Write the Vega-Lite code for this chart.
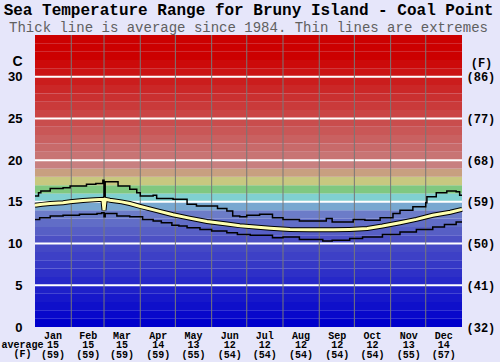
{
  "$schema": "https://vega.github.io/schema/vega-lite/v6.json",
  "width": 427,
  "height": 292,
  "autosize": "none",
  "padding": {"left": 35, "top": 35, "right": 38, "bottom": 35},
  "background": "#e6e6fa",
  "config": {"view": {"stroke": null}, "axisX": {"labelOverlap": false}},
  "title": {
    "text": "Sea Temperature Range for Bruny Island - Coal Point",
    "subtitle": "Thick line is average since 1984. Thin lines are extremes",
    "font": "Liberation Mono", "fontSize": 16, "fontWeight": "bold", "color": "#000000",
    "subtitleFont": "Liberation Mono", "subtitleFontSize": 14, "subtitleColor": "#606060",
    "anchor": "middle", "offset": 0, "subtitlePadding": 3
  },
  "datasets": {
    "bands": [
      {"lo":0,"hi":1},{"lo":1,"hi":2},{"lo":2,"hi":3},{"lo":3,"hi":4},{"lo":4,"hi":5},{"lo":5,"hi":6},{"lo":6,"hi":7},{"lo":7,"hi":8},{"lo":8,"hi":9},{"lo":9,"hi":10},
      {"lo":10,"hi":11},{"lo":11,"hi":12},{"lo":12,"hi":13},{"lo":13,"hi":14},{"lo":14,"hi":15},{"lo":15,"hi":16},{"lo":16,"hi":17},{"lo":17,"hi":18},{"lo":18,"hi":19},{"lo":19,"hi":20},
      {"lo":20,"hi":21},{"lo":21,"hi":22},{"lo":22,"hi":23},{"lo":23,"hi":24},{"lo":24,"hi":25},{"lo":25,"hi":26},{"lo":26,"hi":27},{"lo":27,"hi":28},{"lo":28,"hi":29},{"lo":29,"hi":30},
      {"lo":30,"hi":31},{"lo":31,"hi":32},{"lo":32,"hi":33},{"lo":33,"hi":34},{"lo":34,"hi":35}
    ],
    "grid": [{"t":5},{"t":10},{"t":15},{"t":20},{"t":25},{"t":30}],
    "months": [{"d":31},{"d":59},{"d":90},{"d":120},{"d":151},{"d":181},{"d":212},{"d":243},{"d":273},{"d":304},{"d":334}],
    "max": [
      {"d":0,"t":15.7},{"d":3,"t":16.1},{"d":5,"t":16.3},{"d":13,"t":16.6},{"d":24,"t":16.7},{"d":30,"t":16.9},{"d":44,"t":17.1},{"d":52,"t":17.2},{"d":58,"t":17.6},{"d":59,"t":15.4},{"d":60,"t":17.4},{"d":71,"t":16.9},{"d":81,"t":16.5},{"d":87,"t":16.1},{"d":90,"t":15.7},{"d":101,"t":15.8},{"d":104,"t":15.4},{"d":118,"t":15.3},{"d":130,"t":14.7},{"d":138,"t":14.5},{"d":156,"t":14.2},{"d":164,"t":13.9},{"d":169,"t":13.3},{"d":175,"t":13.2},{"d":181,"t":13.4},{"d":192,"t":13.5},{"d":203,"t":13.1},{"d":212,"t":12.9},{"d":226,"t":12.7},{"d":249,"t":13.0},{"d":254,"t":12.6},{"d":272,"t":12.9},{"d":282,"t":12.8},{"d":295,"t":13.1},{"d":306,"t":13.6},{"d":312,"t":14.0},{"d":323,"t":14.4},{"d":334,"t":14.9},{"d":335,"t":15.6},{"d":343,"t":16.1},{"d":352,"t":16.3},{"d":360,"t":16.2},{"d":363,"t":15.8},{"d":365,"t":15.8}
    ],
    "min": [
      {"d":0,"t":12.9},{"d":4,"t":13.1},{"d":13,"t":13.3},{"d":24,"t":13.4},{"d":38,"t":13.5},{"d":53,"t":13.6},{"d":57,"t":13.7},{"d":59,"t":13.2},{"d":60,"t":13.6},{"d":70,"t":13.3},{"d":81,"t":13.2},{"d":92,"t":12.9},{"d":101,"t":12.7},{"d":108,"t":12.5},{"d":117,"t":12.2},{"d":123,"t":12.1},{"d":130,"t":11.9},{"d":141,"t":11.7},{"d":151,"t":11.5},{"d":164,"t":11.3},{"d":173,"t":11.1},{"d":184,"t":11.0},{"d":203,"t":10.7},{"d":212,"t":10.8},{"d":226,"t":10.5},{"d":246,"t":10.3},{"d":254,"t":10.4},{"d":269,"t":10.6},{"d":280,"t":10.8},{"d":297,"t":11.1},{"d":312,"t":11.4},{"d":326,"t":11.7},{"d":340,"t":12.0},{"d":350,"t":12.3},{"d":360,"t":12.6},{"d":365,"t":12.6}
    ],
    "avg": [
      {"d":0,"t":14.6},{"d":6,"t":14.7},{"d":13,"t":14.8},{"d":24,"t":14.9},{"d":30,"t":15.0},{"d":41,"t":15.15},{"d":51,"t":15.25},{"d":58,"t":15.3},{"d":59,"t":14.0},{"d":60,"t":15.3},{"d":64,"t":15.2},{"d":74,"t":15.0},{"d":81,"t":14.8},{"d":90,"t":14.45},{"d":104,"t":13.95},{"d":118,"t":13.45},{"d":132,"t":13.05},{"d":147,"t":12.65},{"d":164,"t":12.35},{"d":175,"t":12.15},{"d":188,"t":12.0},{"d":201,"t":11.85},{"d":218,"t":11.7},{"d":235,"t":11.65},{"d":255,"t":11.65},{"d":269,"t":11.7},{"d":284,"t":11.8},{"d":297,"t":12.1},{"d":312,"t":12.5},{"d":326,"t":12.9},{"d":340,"t":13.4},{"d":355,"t":13.75},{"d":365,"t":14.1}
    ]
  },
  "resolve": {"axis": {"y": "independent"}},
  "layer": [
    {
      "data": {"name": "bands"},
      "mark": {"type": "rect"},
      "encoding": {
        "y": {"field": "lo", "type": "quantitative",
          "scale": {"domain": [0, 35], "nice": false, "zero": true},
          "axis": {"values": [0,5,10,15,20,25,30], "tickCount": 20, "labelFont": "Liberation Sans", "labelFontWeight": "bold", "labelFontSize": 13, "labelColor": "#000000", "labelPadding": 13, "ticks": false, "domain": false, "grid": false,
            "title": "C", "titleAngle": 0, "titleX": -18, "titleY": 26, "titleAlign": "center", "titleBaseline": "middle", "titleFont": "Liberation Sans", "titleFontSize": 14, "titleFontWeight": "bold", "titleColor": "#000000"}},
        "y2": {"field": "hi"},
        "color": {"field": "lo", "type": "quantitative", "legend": null,
          "scale": {"domain": [0,10,13,14,15,16,17,18,19,20,32,35],
                    "range": ["#0000cc","#4c50c4","#6c7cc8","#78a8d0","#80d0d0","#80c880","#c8c880","#c8a080","#c88080","#c87474","#cc0000","#cc0000"],
                    "interpolate": "rgb"}}
      }
    },
    {
      "data": {"name": "grid"},
      "mark": {"type": "rule", "color": "#ffffff", "strokeWidth": 2},
      "encoding": {
        "y": {"field": "t", "type": "quantitative",
          "axis": {"orient": "right", "values": [0,5,10,15,20,25,30], "tickCount": 20, "labelExpr": "'(' + format(datum.value*9/5+32, 'd') + ')'", "labelFont": "Liberation Mono", "labelFontWeight": "bold", "labelFontSize": 12, "labelColor": "#000000", "labelPadding": 4, "ticks": false, "domain": false, "grid": false,
            "title": "(F)", "titleAngle": 0, "titleX": 19, "titleY": 27, "titleAlign": "center", "titleBaseline": "middle", "titleFont": "Liberation Mono", "titleFontSize": 12, "titleFontWeight": "bold", "titleColor": "#000000"}}
      }
    },
    {
      "data": {"name": "months"},
      "mark": {"type": "rule", "color": "#787878", "strokeWidth": 1},
      "encoding": {
        "x": {"field": "d", "type": "quantitative",
          "scale": {"domain": [0, 365], "nice": false, "zero": false},
          "axis": {"values": [15,45,74,105,135,166,196,227,258,288,319,349], "tickCount": 30,
            "labelExpr": "[['Jan','15','(59)'],['Feb','15','(59)'],['Mar','15','(59)'],['Apr','14','(59)'],['May','13','(55)'],['Jun','12','(54)'],['Jul','12','(54)'],['Aug','12','(54)'],['Sep','12','(54)'],['Oct','12','(54)'],['Nov','13','(55)'],['Dec','14','(57)']][indexof([15,45,74,105,135,166,196,227,258,288,319,349], datum.value)]",
            "labelOverlap": false, "labelFlush": false, "labelBound": false,
            "labelFont": "Liberation Mono", "labelFontWeight": "bold", "labelFontSize": 10, "labelLineHeight": 9.5, "labelColor": "#000000", "labelPadding": 3, "labelBaseline": "top", "ticks": false, "domain": false, "grid": false,
            "title": ["average", "(F)"], "titleAngle": 0, "titleX": -13, "titleY": 12, "titleAlign": "center", "titleBaseline": "top", "titleFont": "Liberation Mono", "titleFontSize": 10, "titleFontWeight": "bold", "titleLineHeight": 9.5, "titleColor": "#000000"}}
      }
    },
    {
      "data": {"name": "max"},
      "mark": {"type": "line", "interpolate": "step-after", "color": "#000000", "strokeWidth": 1.5},
      "encoding": {
        "x": {"field": "d", "type": "quantitative"},
        "y": {"field": "t", "type": "quantitative", "axis": null}
      }
    },
    {
      "data": {"name": "min"},
      "mark": {"type": "line", "interpolate": "step-after", "color": "#000000", "strokeWidth": 1.5},
      "encoding": {
        "x": {"field": "d", "type": "quantitative"},
        "y": {"field": "t", "type": "quantitative", "axis": null}
      }
    },
    {
      "data": {"name": "avg"},
      "mark": {"type": "line", "color": "#000000", "strokeWidth": 5},
      "encoding": {
        "x": {"field": "d", "type": "quantitative"},
        "y": {"field": "t", "type": "quantitative", "axis": null}
      }
    },
    {
      "data": {"name": "avg"},
      "mark": {"type": "line", "color": "#ffffb0", "strokeWidth": 3},
      "encoding": {
        "x": {"field": "d", "type": "quantitative"},
        "y": {"field": "t", "type": "quantitative", "axis": null}
      }
    }
  ]
}
